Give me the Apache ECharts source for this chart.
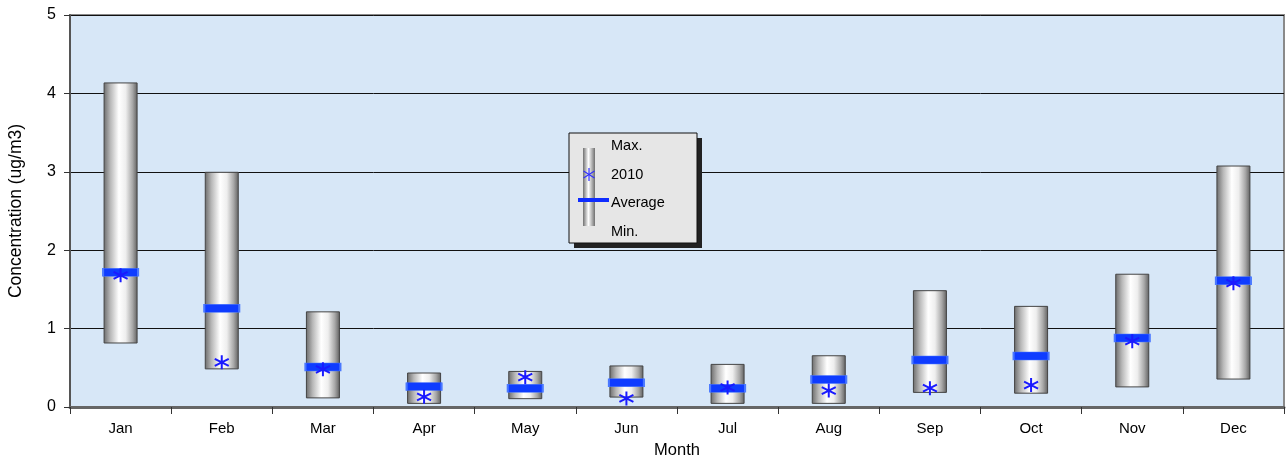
<!DOCTYPE html>
<html>
<head>
<meta charset="utf-8">
<script src="https://cdn.jsdelivr.net/npm/echarts@6/dist/echarts.min.js"></script>
<style>
  html, body { margin: 0; padding: 0; background: #fff; }
  #chart { width: 1286px; height: 459px; }
</style>
</head>
<body>
<div id="chart"></div>
<script>
const months = ["Jan", "Feb", "Mar", "Apr", "May", "Jun", "Jul", "Aug", "Sep", "Oct", "Nov", "Dec"];
const minValues = [0.81, 0.48, 0.11, 0.04, 0.10, 0.12, 0.04, 0.04, 0.18, 0.17, 0.25, 0.35];
const maxValues = [4.14, 3.00, 1.22, 0.44, 0.46, 0.53, 0.55, 0.66, 1.49, 1.29, 1.70, 3.08];
const avgValues = [1.72, 1.26, 0.51, 0.26, 0.24, 0.31, 0.24, 0.35, 0.60, 0.65, 0.88, 1.61];
const year2010 = [1.68, 0.57, 0.48, 0.13, 0.38, 0.11, 0.25, 0.21, 0.24, 0.28, 0.84, 1.58];
const yTicks = [0, 1, 2, 3, 4, 5];

const starPath = "path://M10,0 L10,20 M1.34,5 L18.66,15 M1.34,15 L18.66,5";
const font = "Liberation Sans, Arial, sans-serif";

const cylinder = new echarts.graphic.LinearGradient(0, 0, 1, 0, [
    { offset: 0, color: "#6a6a6a" },
    { offset: 0.2, color: "#b8b8b8" },
    { offset: 0.45, color: "#ffffff" },
    { offset: 0.65, color: "#eeeeee" },
    { offset: 0.85, color: "#a8a8a8" },
    { offset: 1, color: "#5e5e5e" }
]);

let chart = echarts.init(document.getElementById("chart"));

const lx = 569, ly = 133; // legend box corner
const starLine = (x1, y1, x2, y2) => ({
    type: "line", shape: { x1: lx + x1, y1: ly + y1, x2: lx + x2, y2: ly + y2 },
    style: { stroke: "#3030ff", lineWidth: 1.2 }, z: 103
});
const legendText = (t, y) => ({
    type: "text", x: lx + 42, y: ly + y, z: 103,
    style: { text: t, fontSize: 14.5, fill: "#000", fontFamily: font, verticalAlign: "middle" }
});

let option = {
    animation: false,
    backgroundColor: "#ffffff",
    textStyle: { fontFamily: font },
    grid: {
        left: 70, right: 2, top: 15, bottom: 52,
        outerBoundsMode: "none",
        containLabel: false,
        show: true,
        backgroundColor: "#d7e7f7",
        borderColor: "#8a8a8a",
        borderWidth: 2
    },
    xAxis: {
        type: "category",
        data: months,
        name: "Month",
        nameLocation: "middle",
        nameGap: 35,
        nameTextStyle: { fontSize: 16.5, color: "#000" },
        axisLine: { lineStyle: { color: "#666", width: 3 } },
        axisTick: { show: true, length: 7, lineStyle: { color: "#333" } },
        axisLabel: { color: "#000", fontSize: 15, margin: 14 }
    },
    yAxis: {
        type: "value",
        min: 0, max: 5, interval: 1,
        name: "Concentration (ug/m3)",
        nameLocation: "middle",
        nameGap: 45,
        nameTextStyle: { fontSize: 17.5, color: "#000" },
        axisLine: { show: true, lineStyle: { color: "#555", width: 2 } },
        axisTick: { show: true, length: 6, lineStyle: { color: "#333" } },
        axisLabel: {
            color: "#000", fontSize: 16, margin: 14,
            formatter: v => yTicks.includes(v) ? String(v) : ""
        },
        splitLine: { show: true, lineStyle: { color: "#111", width: 1 } }
    },
    series: [
        {
            name: "base",
            type: "bar",
            stack: "range",
            barWidth: 34,
            data: minValues,
            itemStyle: { color: "transparent" },
            silent: true
        },
        {
            name: "Max/Min",
            type: "bar",
            stack: "range",
            barWidth: 34,
            data: maxValues.map((v, i) => +(v - minValues[i]).toFixed(3)),
            itemStyle: { color: cylinder, borderColor: "#444", borderWidth: 1 }
        },
        {
            name: "Average",
            type: "scatter",
            symbol: "rect",
            symbolSize: [35, 8],
            data: avgValues,
            itemStyle: { color: "#0f3cff", borderColor: "#4a78ff", borderWidth: 1, opacity: 1 },
            z: 5
        },
        {
            name: "2010",
            type: "scatter",
            symbol: starPath,
            symbolSize: [14, 14],
            data: year2010,
            itemStyle: { color: "transparent", borderColor: "#1a1aff", borderWidth: 2, opacity: 1 },
            z: 6
        }
    ],
    graphic: [
        { type: "rect", shape: { x: lx + 5, y: ly + 5, width: 128, height: 110 }, style: { fill: "#222" }, z: 100 },
        { type: "rect", shape: { x: lx, y: ly, width: 128, height: 110 },
          style: { fill: "#e6e6e6", stroke: "#111", lineWidth: 1 }, z: 101 },
        { type: "rect", shape: { x: lx + 14, y: ly + 15, width: 12, height: 78 }, z: 102,
          style: { fill: new echarts.graphic.LinearGradient(0, 0, 1, 0, [
              { offset: 0, color: "#707070" }, { offset: 0.45, color: "#ffffff" }, { offset: 1, color: "#707070" }
          ]) } },
        starLine(20, 35, 20, 48),
        starLine(14.5, 38, 25.5, 45),
        starLine(14.5, 45, 25.5, 38),
        { type: "rect", shape: { x: lx + 9, y: ly + 65, width: 31, height: 4 }, style: { fill: "#0f2cff" }, z: 103 },
        legendText("Max.", 13),
        legendText("2010", 42),
        legendText("Average", 70),
        legendText("Min.", 99)
    ]
};
chart.setOption(option);
</script>
</body>
</html>
